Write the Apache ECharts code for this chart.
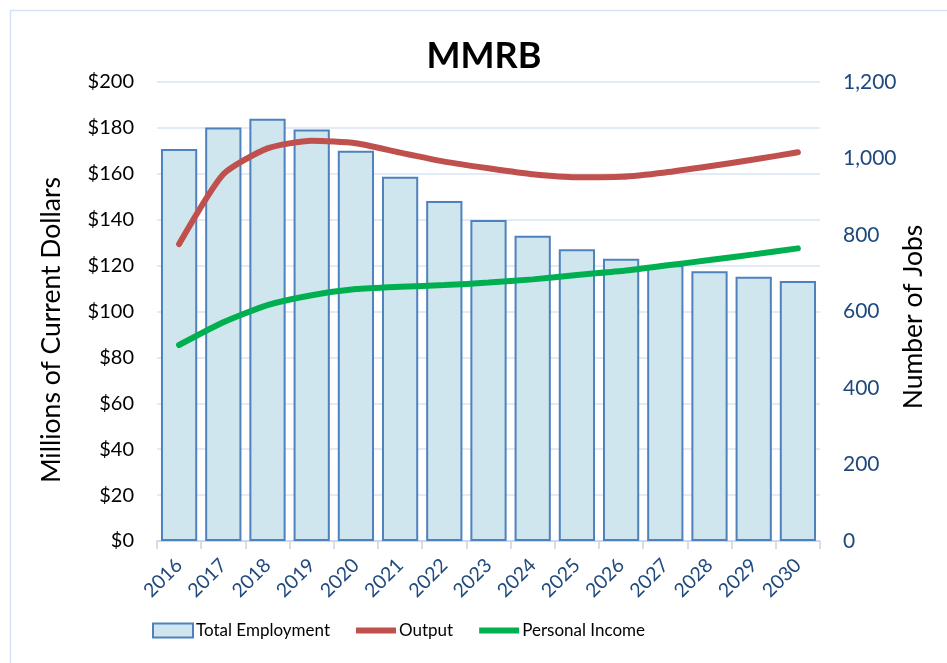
<!DOCTYPE html>
<html>
<head>
<meta charset="utf-8">
<script src="https://cdn.jsdelivr.net/npm/echarts@6/dist/echarts.min.js"></script>
<style>html,body{margin:0;padding:0;background:#fff;}#c{width:947px;height:663px;}</style>
</head>
<body>
<div id="c"></div>
<script>
const years = ['2016','2017','2018','2019','2020','2021','2022','2023','2024','2025','2026','2027','2028','2029','2030'];
const totalEmployment = [1025, 1081, 1104, 1076, 1020, 952, 889, 839, 798, 763, 738, 721, 705, 691, 680];
const output = [129.4, 159.8, 171.1, 174.4, 173.3, 169.2, 165.3, 162.4, 159.8, 158.5, 158.7, 160.6, 163.3, 166.2, 169.4];
const personalIncome = [85.4, 95.3, 102.8, 107.1, 109.8, 110.8, 111.5, 112.6, 114.0, 115.9, 117.6, 120.0, 122.4, 124.9, 127.5];
const leftTicks = {min: 0, max: 200, interval: 20};
const rightTicks = {min: 0, max: 1200, interval: 200};
const leftAxisName = 'Millions of Current Dollars';
const rightAxisName = 'Number of Jobs';

const FONT = 'Lato, "Noto Sans", sans-serif';
const chart = echarts.init(document.getElementById('c'));
chart.setOption({
  backgroundColor: '#fff',
  animation: false,
  textStyle: {fontFamily: FONT},
  graphic: [{
    type: 'rect', left: 8, top: 8, silent: true,
    shape: {width: 960, height: 680},
    style: {fill: 'none', stroke: '#D6E3F3', lineWidth: 1.5}
  }, {
    type: 'text', x: 51, y: 330, rotation: Math.PI / 2, silent: true,
    style: {text: leftAxisName, font: '26.5px ' + FONT, fill: '#000', align: 'center', verticalAlign: 'middle'}
  }, {
    type: 'text', x: 913, y: 317, rotation: Math.PI / 2, silent: true,
    style: {text: rightAxisName, font: '26.5px ' + FONT, fill: '#000', align: 'center', verticalAlign: 'middle'}
  }],
  title: {
    text: 'MMRB', left: 479, top: 33, textAlign: 'center',
    textStyle: {fontFamily: FONT, fontSize: 36, fontWeight: 'bold', color: '#000'}
  },
  legend: {
    bottom: 19, left: 147, itemWidth: 40, itemHeight: 14, itemGap: 26,
    textStyle: {fontFamily: FONT, fontSize: 17, color: '#000', padding: [0,0,0,-2]},
    data: [
      {name: 'Total Employment', icon: 'rect'},
      {name: 'Output', icon: 'path://M0,0 L40,0 L40,6 L0,6 Z'},
      {name: 'Personal Income', icon: 'path://M0,0 L40,0 L40,6 L0,6 Z'}
    ]
  },
  grid: {left: 157, right: 127, top: 82, bottom: 122},
  xAxis: {
    type: 'category', data: years,
    axisLine: {lineStyle: {color: '#C5D5EA', width: 1.5}},
    axisTick: {show: true, length: 8, lineStyle: {color: '#C5D5EA', width: 1.5}},
    axisLabel: {rotate: 45, fontSize: 19.5, color: '#1F497D', margin: 21, fontFamily: FONT}
  },
  yAxis: [{
    type: 'value', min: leftTicks.min, max: leftTicks.max, interval: leftTicks.interval,
    axisLine: {show: false}, axisTick: {show: false},
    axisLabel: {formatter: v => '$' + v, fontSize: 20, color: '#000', margin: 23, fontFamily: FONT},
    splitLine: {lineStyle: {color: '#D9E5F3', width: 1.5}}
  }, {
    type: 'value', min: rightTicks.min, max: rightTicks.max, interval: rightTicks.interval,
    axisLine: {show: false}, axisTick: {show: false},
    axisLabel: {formatter: v => v.toLocaleString('en-US'), fontSize: 21, color: '#1F497D', margin: 23, fontFamily: FONT},
    splitLine: {show: false}
  }],
  series: [{
    name: 'Total Employment', type: 'bar', yAxisIndex: 1, data: totalEmployment,
    barCategoryGap: '18%',
    itemStyle: {color: '#CFE6EE', borderColor: '#4F81BD', borderWidth: 2}
  }, {
    name: 'Output', type: 'line', yAxisIndex: 0, data: output,
    smooth: 0.2, symbol: 'none',
    lineStyle: {color: '#C0504D', width: 6, cap: 'round'},
    itemStyle: {color: '#C0504D'}
  }, {
    name: 'Personal Income', type: 'line', yAxisIndex: 0, data: personalIncome,
    smooth: 0.2, symbol: 'none',
    lineStyle: {color: '#00B050', width: 6, cap: 'round'},
    itemStyle: {color: '#00B050'}
  }]
});
</script>
</body>
</html>
